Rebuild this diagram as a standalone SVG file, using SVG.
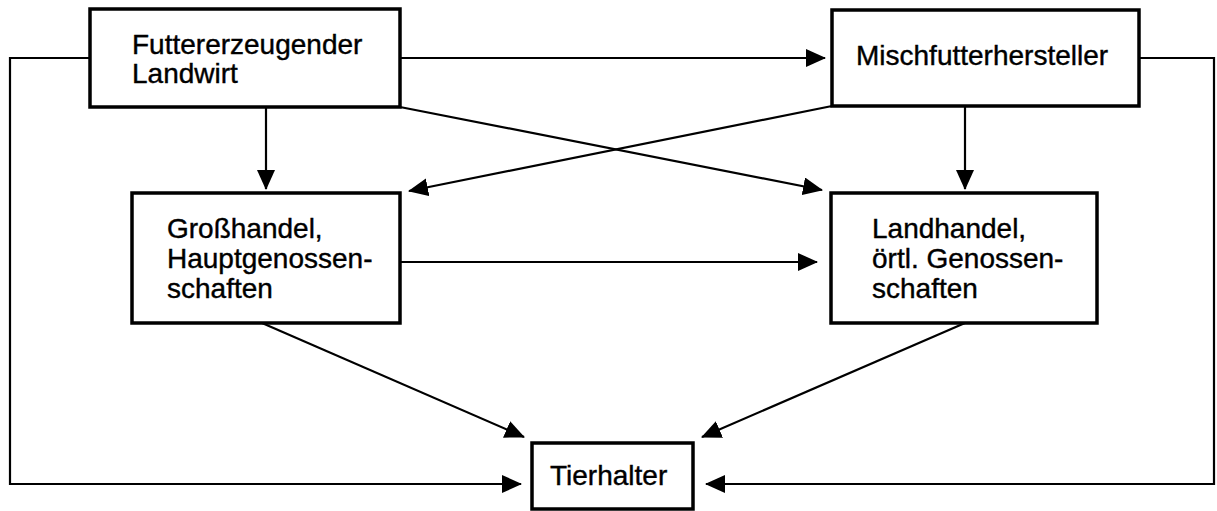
<svg xmlns="http://www.w3.org/2000/svg" width="1217" height="511" viewBox="0 0 1217 511">
<style>
.box{fill:#fff;stroke:#000;stroke-width:3.5}
.t{font-family:"Liberation Sans",Arial,sans-serif;font-size:28px;fill:#000;stroke:#000;stroke-width:0.4}
.c{fill:none;stroke:#000;stroke-width:2.2}
</style>
<defs>
<marker id="ah" markerUnits="userSpaceOnUse" markerWidth="20" markerHeight="18" refX="19" refY="9" orient="auto">
<path d="M0,0 L20,9 L0,18 z" fill="#000"/>
</marker>
</defs>
<rect width="1217" height="511" fill="#fff"/>
<g id="connectors">
<path class="c" d="M400,58 L825,58" marker-end="url(#ah)"/>
<path class="c" d="M266,107 L266,189" marker-end="url(#ah)"/>
<path class="c" d="M965,106 L965,189" marker-end="url(#ah)"/>
<path class="c" d="M400,107 L822,190" marker-end="url(#ah)"/>
<path class="c" d="M832,106 L409,191" marker-end="url(#ah)"/>
<path class="c" d="M400,262 L817,262" marker-end="url(#ah)"/>
<path class="c" d="M262,323 L524,437" marker-end="url(#ah)"/>
<path class="c" d="M965,323 L702,437" marker-end="url(#ah)"/>
<path class="c" d="M90,58 L10,58 L10,484 L521,484" marker-end="url(#ah)"/>
<path class="c" d="M1139,58 L1214,58 L1214,484 L706,484" marker-end="url(#ah)"/>
</g>
<g id="node-landwirt">
<rect class="box" x="90" y="9" width="310" height="98"/>
<text class="t" x="132" y="54">Futtererzeugender</text>
<text class="t" x="132" y="83">Landwirt</text>
</g>
<g id="node-mischfutter">
<rect class="box" x="832" y="10" width="307" height="96"/>
<text class="t" x="856" y="65">Mischfutterhersteller</text>
</g>
<g id="node-grosshandel">
<rect class="box" x="132" y="193" width="268" height="130"/>
<text class="t" x="167" y="238">Großhandel,</text>
<text class="t" x="167" y="268">Hauptgenossen-</text>
<text class="t" x="167" y="298">schaften</text>
</g>
<g id="node-landhandel">
<rect class="box" x="831" y="193" width="266" height="130"/>
<text class="t" x="872" y="238">Landhandel,</text>
<text class="t" x="872" y="268">örtl. Genossen-</text>
<text class="t" x="872" y="298">schaften</text>
</g>
<g id="node-tierhalter">
<rect class="box" x="532" y="443" width="161" height="66"/>
<text class="t" x="550" y="485">Tierhalter</text>
</g>
</svg>
